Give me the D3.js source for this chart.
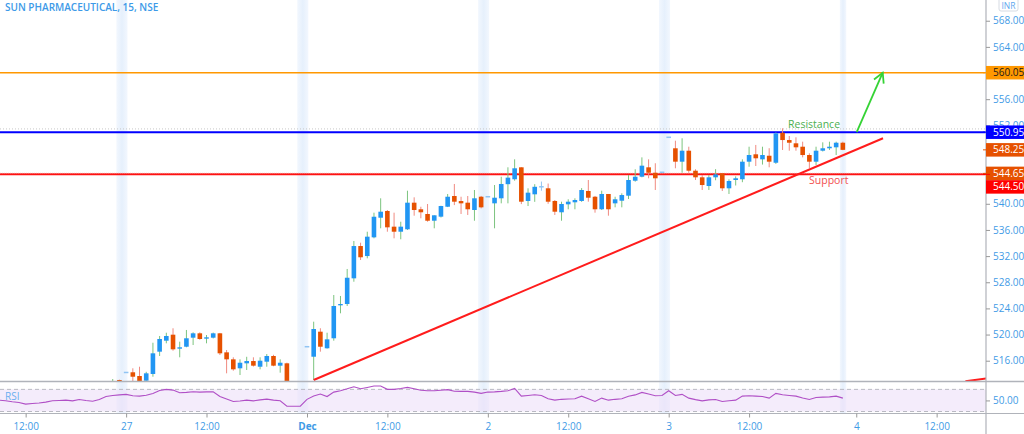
<!DOCTYPE html>
<html><head><meta charset="utf-8">
<script src="https://cdn.jsdelivr.net/npm/d3@7"></script>
<style>html,body{margin:0;padding:0;background:#fff;overflow:hidden}</style>
</head><body><svg id="chart" width="1024" height="434"></svg>
<script>
// ---------------- DATA ----------------
const title = "SUN PHARMACEUTICAL, 15, NSE";
// candles: bar index (15-min bars, 0 = Dec 1 09:00) from candleStart
const candleStart = -29;
const opens = [511.6,513.05,514.2,514.23,513.66,512.94,513.97,517.38,519.06,519.98,517.84,518.14,519.52,520.19,519.37,519.52,520.19,517.28,516.21,514.84,515.6,515.95,515.08,515.85,516.72,515.24,515.6,512.4,511.9,
518.14,516.61,520.44,517.9,519.43,524.47,524.67,528.6,533.54,532.01,534.87,537.87,538.9,536.5,535.73,536.1,540.17,539.16,538.44,537.41,538.03,539.55,541.19,540.42,540.17,539.05,541.08,
541.08,540.07,540.84,543.0,543.75,545.58,540.43,541.45,542.6,542.37,540.43,538.7,539.92,540.23,540.43,541.96,541.08,539.16,541.5,540.07,540.47,541.24,543.53,544.14,545.58,544.75,544.82,
550.17,548.49,546.44,548.12,545.06,544.05,542.72,544.05,544.66,542.37,543.64,543.75,546.44,547.57,546.8,547.35,546.28,550.87,549.75,549.25,548.73,547.46,546.44,548.12,548.49,548.64,549.34];
const highs = [513.2,513.1,514.2,514.84,515.08,514.3,518.75,519.78,520.28,520.96,518.91,520.7,520.34,520.34,519.93,520.3,520.25,517.64,516.52,516.21,516.6,516.52,516.52,517.02,516.9,516.21,515.7,512.7,512.5,
518.14,521.97,520.96,520.28,526.05,525.9,530.03,534.31,534.05,535.73,538.64,540.84,539.05,538.64,537.26,542.0,540.99,539.55,539.97,538.24,539.7,541.5,543.03,541.08,541.19,542.11,541.2,
541.08,542.87,544.14,545.58,546.8,545.6,542.37,543.0,543.4,543.1,540.58,540.32,540.69,540.84,542.4,543.64,541.2,542.0,541.5,541.08,541.6,544.4,545.28,547.1,546.8,546.2,544.82,
550.17,549.65,550.02,548.73,545.28,544.4,544.4,545.3,544.7,543.75,544.2,546.8,548.73,549.0,548.73,548.5,550.9,551.55,550.37,550.17,549.5,547.72,548.73,549.4,549.5,549.5,549.5];
const lows = [511.2,511.9,514.2,512.7,512.3,512.6,513.55,516.72,518.66,517.53,516.52,518.05,518.4,519.2,518.66,519.4,516.87,514.07,514.47,513.81,514.58,515.1,514.68,515.08,515.15,514.17,512.3,511.6,511.3,
518.14,513.05,517.38,517.85,519.06,523.25,524.37,528.08,531.4,531.66,534.72,536.25,535.73,534.72,534.57,536.0,538.18,537.78,537.26,536.25,537.9,539.5,539.8,538.44,538.29,537.41,539.3,
541.08,536.25,540.07,540.07,543.53,539.95,539.66,540.3,542.0,540.0,538.29,537.41,539.16,539.16,540.3,540.32,538.64,539.05,538.18,539.46,539.46,540.73,543.38,544.05,543.9,542.11,544.82,
550.17,545.43,544.75,544.75,543.64,542.11,542.11,543.6,541.96,541.5,542.8,543.3,545.67,545.78,546.0,545.58,546.1,548.23,548.12,548.12,547.1,545.43,545.93,548.0,548.23,547.46,548.2];
const closes = [512.4,512.3,514.2,513.55,512.5,514.07,517.13,519.32,519.78,517.74,518.05,519.43,520.19,519.32,519.58,520.19,517.13,516.21,514.68,515.69,515.95,515.24,516.0,516.72,515.24,515.69,512.5,511.9,512.2,
518.14,520.85,518.14,519.27,524.37,524.67,528.69,533.54,531.82,534.97,538.02,538.79,536.4,535.73,536.5,540.17,539.05,538.7,537.41,538.24,539.66,541.08,540.32,540.07,539.16,540.84,539.46,
541.08,540.93,543.03,544.0,545.43,540.32,541.7,542.6,542.6,540.32,538.79,539.97,540.32,540.58,542.11,540.93,539.16,541.5,539.16,540.69,541.34,543.64,544.14,545.83,544.75,543.9,544.82,
550.17,546.44,548.12,545.06,544.05,542.87,544.05,544.5,542.37,543.49,543.9,546.44,547.46,546.96,547.46,546.44,550.78,549.75,549.34,548.64,547.46,546.44,548.12,548.49,548.73,549.34,548.25];

// RSI(14) per bar from rsiStart
const rsiStart = -46;
const rsiValues = [50.5,49.5,47.5,46.3,43.3,44.5,45.5,47,49.3,50,50.5,49.3,51.8,50,48.5,51.8,57,59,60,60.9,58.4,57.8,59.5,62.5,68,69.9,68.7,63.9,64.5,65.7,65.1,65.5,65.7,57,52.5,48,49,50.5,49.3,51,52.4,50.5,49.3,39.6,39.6,39.6,
52,58,61.5,57,65,67.5,71,74.8,71.1,73.5,76,76,70,69.9,71.5,73.6,71,68.5,67.5,67.5,68.5,69.5,66.5,66.3,66.3,65,62.7,
65.1,65.5,66.3,67.5,71.8,57.8,59,60.2,59,53,50.5,52,52.5,53,57.8,53,48.1,54.2,50.5,52,53,57.5,60,64.5,61.5,58.5,59,
67.5,59,61,54.2,51.5,49.3,51,51.8,48.1,49.5,50.5,57.8,58.5,57.8,57,54.2,62.7,60.2,59,57.8,54.5,51.8,55.4,56,56.5,57.8,54.2];

// time axis
const timeTickIndex = [-42,-27,-15,0,12,27,39,54,66,82,94];
const timeTickLabels = ["12:00","27","12:00","Dec","12:00","2","12:00","3","12:00","4","12:00"];
const sessionStarts = [-27,0,27,54,81];

// price axis
const priceTicks = [516,520,524,528,532,536,540,544,548,552,556,560,564,568];
const rsiTickValues = [50];
const rsiBands = [30,70];

// drawn levels
const targetLevel = 560.05;
const resistanceLevel = 550.95;
const highDotLevel = 551.45;
const lastPrice = 548.25;
const supportMark = 544.65;
const supportLevel = 544.50;
const trendLine = [[1,513.05],[86,550.02]];
const trendLine2 = [[98.3,512.85],[101.4,513.3]];
const arrowPath = [[82.07,550.95],[85.95,560.05]];
const resistanceText = {label:"Resistance", i:75.7, p:550.95};
const supportText = {label:"Support", i:77.9, p:544.50};

// ---------------- LAYOUT ----------------
const W = 1024, H = 434, plotR = 986;
const mainBottom = 381.5, rsiTop = 382, rsiBottom = 413.5;
const svg = d3.select("#chart");
const FONT = "'Open Sans', 'Noto Sans', sans-serif";
const axisBlue = "#3f9be6";

const x = d3.scaleLinear().domain([-45.83, 101.37]).range([0, plotR]);
const y = d3.scaleLinear().domain([512.82, 571.17]).range([mainBottom, 0]);
const yr = d3.scaleLinear().domain([26.4, 83.3]).range([rsiBottom, rsiTop]);

svg.append("rect").attr("width",W).attr("height",H).attr("fill","#fff");

const defs = svg.append("defs");
defs.append("clipPath").attr("id","clipMain").append("rect").attr("x",0).attr("y",0).attr("width",plotR).attr("height",mainBottom);
defs.append("clipPath").attr("id","clipRsi").append("rect").attr("x",0).attr("y",rsiTop).attr("width",plotR).attr("height",rsiBottom-rsiTop);
const grad = defs.append("linearGradient").attr("id","stripeGrad").attr("x1","0%").attr("x2","100%");
grad.append("stop").attr("offset","0%").attr("stop-color","#f2f7fe");
grad.append("stop").attr("offset","50%").attr("stop-color","#e6f0fc");
grad.append("stop").attr("offset","100%").attr("stop-color","#f2f7fe");

const lastIdx = candleStart + opens.length - 1;
// session stripes
svg.append("g").selectAll("rect").data(sessionStarts).join("rect")
  .attr("x", d => x(d - 1.45))
  .attr("width", d => Math.min(x(d + 0.2), x(lastIdx + 0.5)) - x(d - 1.45))
  .attr("y", 0).attr("height", rsiBottom)
  .attr("fill", "url(#stripeGrad)");

// RSI pane
const rsiG = svg.append("g").attr("clip-path","url(#clipRsi)");
rsiG.append("rect").attr("x",0).attr("width",plotR)
  .attr("y", yr(rsiBands[1])).attr("height", yr(rsiBands[0]) - yr(rsiBands[1]))
  .attr("fill","#ecdff9").attr("opacity",0.6);
rsiG.selectAll("line.band").data(rsiBands).join("line").attr("class","band")
  .attr("x1",0).attr("x2",plotR).attr("y1",d=>yr(d)).attr("y2",d=>yr(d))
  .attr("stroke","#b9b9c2").attr("stroke-dasharray","4,3").attr("stroke-width",1);
const rsiLine = d3.line().x((d,k)=>x(rsiStart+k)).y(d=>yr(d));
rsiG.append("path").datum(rsiValues).attr("d",rsiLine)
  .attr("fill","none").attr("stroke","#b04fc6").attr("stroke-width",1.1);
svg.append("text").attr("x",5).attr("y",400).text("RSI")
  .attr("font-family",FONT).attr("font-size",10).attr("fill","#6aaef0");

// main pane
const main = svg.append("g").attr("clip-path","url(#clipMain)");

// horizontal levels
main.append("line").attr("x1",0).attr("x2",plotR).attr("y1",y(highDotLevel)).attr("y2",y(highDotLevel))
  .attr("stroke","#c8c8c8").attr("stroke-dasharray","1,2").attr("stroke-width",1);
main.append("line").attr("x1",0).attr("x2",plotR).attr("y1",y(targetLevel)).attr("y2",y(targetLevel))
  .attr("stroke","#ff9800").attr("stroke-width",1.6);
main.append("line").attr("x1",0).attr("x2",plotR).attr("y1",y(resistanceLevel)).attr("y2",y(resistanceLevel))
  .attr("stroke","#0000ff").attr("stroke-width",2);
main.append("line").attr("x1",0).attr("x2",plotR).attr("y1",y(supportLevel)).attr("y2",y(supportLevel))
  .attr("stroke","#ff1111").attr("stroke-width",2);
main.append("line").attr("x1",0).attr("x2",plotR).attr("y1",y(supportMark)).attr("y2",y(supportMark))
  .attr("stroke","#f07070").attr("stroke-dasharray","1,1").attr("stroke-width",1);

// candles
const candles = opens.map((o,k)=>({i:candleStart+k,o,h:highs[k],l:lows[k],c:closes[k]}));
const bw = 4.6;
const cg = main.append("g");
cg.selectAll("line.wick").data(candles).join("line").attr("class","wick")
  .attr("x1",d=>x(d.i)).attr("x2",d=>x(d.i)).attr("y1",d=>y(d.h)).attr("y2",d=>y(d.l))
  .attr("stroke",d=> d.c>d.o ? "#7cc47f" : (d.c<d.o ? "#f08a80" : "#90c4f3")).attr("stroke-width",1);
cg.selectAll("rect.body").data(candles).join("rect").attr("class","body")
  .attr("x",d=>x(d.i)-bw/2).attr("width",bw)
  .attr("y",d=> d.c===d.o ? y(d.o)-0.75 : y(Math.max(d.o,d.c)))
  .attr("height",d=> d.c===d.o ? 1.5 : Math.max(1, Math.abs(y(d.o)-y(d.c))))
  .attr("fill",d=> d.c>d.o ? "#2196f3" : (d.c<d.o ? "#e65100" : "#90c4f3"));

// trend lines
const tl = d3.line().x(d=>x(d[0])).y(d=>y(d[1]));
main.append("path").datum(trendLine).attr("d",tl).attr("stroke","#ff1c1c").attr("stroke-width",2).attr("fill","none");
main.append("path").datum(trendLine2).attr("d",tl).attr("stroke","#ff1c1c").attr("stroke-width",2).attr("fill","none");

// arrow
const green = "#35d335";
main.append("path").datum(arrowPath).attr("d",tl).attr("stroke",green).attr("stroke-width",1.8).attr("fill","none");
{
  const [a,b] = arrowPath;
  const x1=x(a[0]), y1=y(a[1]), x2=x(b[0]), y2=y(b[1]);
  const ang = Math.atan2(y2-y1, x2-x1), L = 11, sp = 0.5;
  const pts = [[x2 - L*Math.cos(ang-sp), y2 - L*Math.sin(ang-sp)],[x2,y2],[x2 - L*Math.cos(ang+sp), y2 - L*Math.sin(ang+sp)]];
  main.append("path").attr("d", d3.line()(pts)).attr("stroke",green).attr("stroke-width",1.8).attr("fill","none");
}

// annotations
main.append("text").attr("x",x(resistanceText.i)).attr("y",y(resistanceText.p)-4).attr("text-anchor","middle")
  .text(resistanceText.label).attr("font-family",FONT).attr("font-size",10.5).attr("fill","#4caf50");
main.append("text").attr("x",x(supportText.i)).attr("y",y(supportText.p)+10).attr("text-anchor","middle")
  .text(supportText.label).attr("font-family",FONT).attr("font-size",10.5).attr("fill","#f25050");

// title
svg.append("text").attr("x",5).attr("y",11).text(title)
  .attr("font-family",FONT).attr("font-weight",600).attr("font-size",10).attr("fill","#3d9ae8");

// separators
const sep = "#b0b3ba";
svg.append("line").attr("x1",0).attr("x2",W).attr("y1",mainBottom).attr("y2",mainBottom).attr("stroke",sep).attr("stroke-width",1.5);
svg.append("line").attr("x1",0).attr("x2",W).attr("y1",rsiBottom).attr("y2",rsiBottom).attr("stroke",sep).attr("stroke-width",1.2);
svg.append("line").attr("x1",plotR).attr("x2",plotR).attr("y1",0).attr("y2",H).attr("stroke",sep).attr("stroke-width",1.2);

// price label boxes (computed first so hidden tick labels can be skipped)
const bh = 13.5;
const boxes = [
  {p:targetLevel, fill:"#ff9800", text:"#1a1a1a"},
  {p:resistanceLevel, fill:"#0000ff", text:"#fff"},
  {p:lastPrice, fill:"#e65100", text:"#fff"},
  {p:supportMark, fill:"#e65100", text:"#fff"},
  {p:supportLevel, fill:"#ff0000", text:"#fff"}
].map(b=>({...b, cy:y(b.p)})).sort((a,b)=>a.cy-b.cy);
for (let k=1;k<boxes.length;k++){
  if (boxes[k].cy - boxes[k-1].cy < bh) boxes[k].cy = boxes[k-1].cy + bh;
}
// a tick label is hidden when a box covers its centre
const visibleTicks = priceTicks.filter(t => !boxes.some(b => Math.abs(y(t) - b.cy) < bh/2 + 1));
const partialTicks = priceTicks.filter(t => !visibleTicks.includes(t) && !boxes.some(b => Math.abs(y(t) - b.cy) < 4.5));

// price axis
defs.append("clipPath").attr("id","clipAxis").append("rect").attr("x",0).attr("y",-20).attr("width",60).attr("height",2000);
const pAxis = svg.append("g").attr("transform",`translate(${plotR},0)`)
  .call(d3.axisRight(y).tickValues(visibleTicks.concat(partialTicks)).tickFormat(d3.format(".2f")).tickSize(4).tickPadding(3));
pAxis.select(".domain").remove();
pAxis.selectAll("line").attr("stroke","#999");
pAxis.selectAll("text").attr("font-family",FONT).attr("font-size",10).attr("fill",axisBlue);

const rAxis = svg.append("g").attr("transform",`translate(${plotR},0)`)
  .call(d3.axisRight(yr).tickValues(rsiTickValues).tickFormat(d3.format(".2f")).tickSize(4).tickPadding(3));
rAxis.select(".domain").remove();
rAxis.selectAll("line").attr("stroke","#999");
rAxis.selectAll("text").attr("font-family",FONT).attr("font-size",10).attr("fill",axisBlue);

// time axis
const tAxis = svg.append("g").attr("transform",`translate(0,${rsiBottom})`)
  .call(d3.axisBottom(x).tickValues(timeTickIndex).tickFormat((d,k)=>timeTickLabels[k]).tickSize(4).tickPadding(5));
tAxis.select(".domain").remove();
tAxis.selectAll("line").attr("stroke","#999");
tAxis.selectAll("text").attr("font-family",FONT).attr("font-size",10).attr("fill",axisBlue)
  .attr("font-weight",(d,k)=> timeTickLabels[k]==="Dec" ? 700 : 400);

const bg = svg.append("g");
bg.selectAll("rect").data(boxes).join("rect")
  .attr("x",plotR).attr("width",W-plotR).attr("y",d=>d.cy-bh/2).attr("height",bh).attr("fill",d=>d.fill);
bg.selectAll("line").data(boxes).join("line")
  .attr("x1",plotR-3).attr("x2",plotR+4).attr("y1",d=>y(d.p)).attr("y2",d=>y(d.p)).attr("stroke",d=>d.fill);
bg.selectAll("text").data(boxes).join("text")
  .attr("x",plotR+7).attr("y",d=>d.cy).attr("dy","0.34em").text(d=>d3.format(".2f")(d.p))
  .attr("font-family",FONT).attr("font-size",10).attr("fill",d=>d.text);

// INR badge
svg.append("rect").attr("x",999).attr("y",-2).attr("width",19).attr("height",13).attr("rx",2)
  .attr("fill","#fff").attr("stroke","#d6dbe3");
svg.append("text").attr("x",1008.5).attr("y",8.5).attr("text-anchor","middle").text("INR")
  .attr("font-family",FONT).attr("font-size",8.5).attr("fill","#5fa8ee");
</script></body></html>
